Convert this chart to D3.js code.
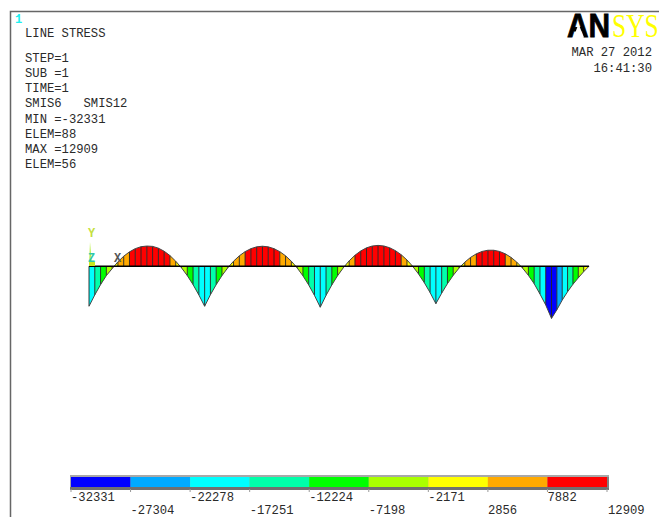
<!DOCTYPE html>
<html>
<head>
<meta charset="utf-8">
<script src="https://cdnjs.cloudflare.com/ajax/libs/d3/7.8.5/d3.min.js"></script>
<style>
html,body{margin:0;padding:0;background:#fff;overflow:hidden}
svg{display:block}
text{font-family:"Liberation Mono",monospace;font-size:12.2px;fill:#2a2a2a}
</style>
</head>
<body>
<svg id="c" width="659" height="517"></svg>
<script>
// Line stress at each node along the beam
const nodeStress = [
 -24800,-17800,-11400,-5800,-1500,2700,6200,8900,10900,12100,12500,12300,11200,9300,6600,3100,-1000,-5800,-11400,-17800,
 -24800,-17700,-11400,-5800,-1000,3100,6450,9050,10900,12000,12400,12000,10900,9050,6450,3100,-1000,-5900,-11600,-18100,
 -25400,-18100,-11600,-5850,-900,3330,6780,9460,11400,12530,12909,12550,11460,9660,7130,3880,-90,-4780,-10200,-16340,
 -23200,-16730,-10810,-5630,-1190,2510,5470,7690,9170,9910,9910,9170,7690,5470,2510,-1190,-5630,-10810,-17200,-24000,
 -32331,-27000,-21000,-15800,-11200,-7200,-3400,0
];
const contourLevels = [-32331,-27304,-22278,-17251,-12224,-7198,-2171,2856,7882,12909];
const contourLabels = ["-32331","-27304","-22278","-17251","-12224","-7198","-2171","2856","7882","12909"];
const bandColors = ["#0000ff","#00aaff","#00ffff","#00ffaa","#00ff00","#aaff00","#ffff00","#ffaa00","#ff0000"];
const headerLines = ["STEP=1","SUB =1","TIME=1","SMIS6   SMIS12","MIN =-32331","ELEM=88","MAX =12909","ELEM=56"];
const headerY = [62,77,92,107,123,138,153,168];

const svg = d3.select("#c");

// Window frame
svg.append("path").attr("d","M10.5,517V11.5H659").attr("fill","none").attr("stroke","#666").attr("stroke-width",1.5);

// Scales
const x = d3.scaleLinear().domain([0,80,nodeStress.length-1]).range([89,551.5,589]);
const y = d3.scaleLinear().domain([-32331,12909]).range([318.4,245.4]);
const band = d3.scaleThreshold().domain(contourLevels.slice(1,-1)).range(bandColors);

// Strips
const elements = d3.range(nodeStress.length-1);
const strip = d3.area().x(d=>x(d)).y0(y(0)).y1(d=>y(nodeStress[d]));
svg.append("g").selectAll("path").data(elements).join("path")
  .attr("d",i=>strip([i,i+1]))
  .attr("fill",i=>band((nodeStress[i]+nodeStress[i+1])/2));
svg.append("g").selectAll("line").data(d3.range(nodeStress.length)).join("line")
  .attr("x1",x).attr("x2",x).attr("y1",y(0)).attr("y2",i=>y(nodeStress[i]))
  .attr("stroke","#222").attr("stroke-width",0.9);
svg.append("path")
  .attr("d",d3.line().x((d,i)=>x(i)).y(d=>y(d))(nodeStress))
  .attr("fill","none").attr("stroke","#444").attr("stroke-width",1);
svg.append("line").attr("x1",x(0)).attr("x2",x(nodeStress.length-1)).attr("y1",y(0)).attr("y2",y(0))
  .attr("stroke","#000").attr("stroke-width",1.5);

// Triad
svg.append("path").attr("d","M89,266L90,242L92,266Z").attr("fill","#b8f040");
svg.append("rect").attr("x",89).attr("y",262).attr("width",6).attr("height",4).attr("fill","#c8e820");
svg.append("text").attr("x",88).attr("y",237).attr("style","font-size:12px;font-weight:bold;fill:#c4e040").text("Y");
svg.append("text").attr("x",88).attr("y",262).attr("style","font-size:12px;font-weight:bold;fill:#30c8a8").text("Z");
svg.append("text").attr("x",114).attr("y",262).attr("style","font-size:12px;font-weight:bold;fill:#555").text("X");

// Header text
svg.append("text").attr("x",15).attr("y",23).attr("style","font-size:12px;font-weight:bold;fill:#20f0f0").text("1");
svg.append("text").attr("x",25).attr("y",37).text("LINE STRESS");
svg.append("g").selectAll("text").data(headerLines).join("text")
  .attr("x",25).attr("y",(d,i)=>headerY[i]).attr("xml:space","preserve").style("white-space","pre").text(d=>d);
svg.append("text").attr("x",652).attr("y",56).attr("text-anchor","end").text("MAR 27 2012");
svg.append("text").attr("x",652).attr("y",72).attr("text-anchor","end").text("16:41:30");

// Logo
svg.append("text").attr("transform","translate(567,37) scale(0.88,1)")
  .attr("style",'font-family:"Liberation Sans";font-weight:bold;font-size:34px;fill:#000;stroke:#000;stroke-width:0.8').text("AN");
svg.append("path").attr("d","M578.5,24L573.5,37.5H584Z").attr("fill","#fff");
svg.append("text").attr("transform","translate(612,37) scale(0.75,1)")
  .attr("style",'font-family:"Liberation Serif";font-size:34px;fill:#ffff00').text("SYS");

// Contour legend
const lx = d3.scaleLinear().domain([-32331,12909]).range([71,607]);
const bands = d3.range(bandColors.length);
svg.append("rect").attr("x",70).attr("y",475).attr("width",539).attr("height",14).attr("fill","#a8a8a8");
svg.append("rect").attr("x",70).attr("y",487).attr("width",539).attr("height",3).attr("fill","#707070");
svg.append("rect").attr("x",607).attr("y",477).attr("width",2).attr("height",11).attr("fill","#808080");
svg.append("g").selectAll("rect").data(bands).join("rect")
  .attr("x",i=>lx(contourLevels[i])).attr("y",477)
  .attr("width",i=>lx(contourLevels[i+1])-lx(contourLevels[i])).attr("height",10)
  .attr("fill",i=>bandColors[i]);
svg.append("g").selectAll("line").data(contourLevels).join("line")
  .attr("x1",lx).attr("x2",lx).attr("y1",489).attr("y2",492).attr("stroke","#999");
svg.append("g").selectAll("text").data(contourLabels).join("text")
  .attr("x",(d,i)=>lx(contourLevels[i])+(i===9?1:0)).attr("y",(d,i)=>i%2?514:501).text(d=>d);
</script>
</body>
</html>
